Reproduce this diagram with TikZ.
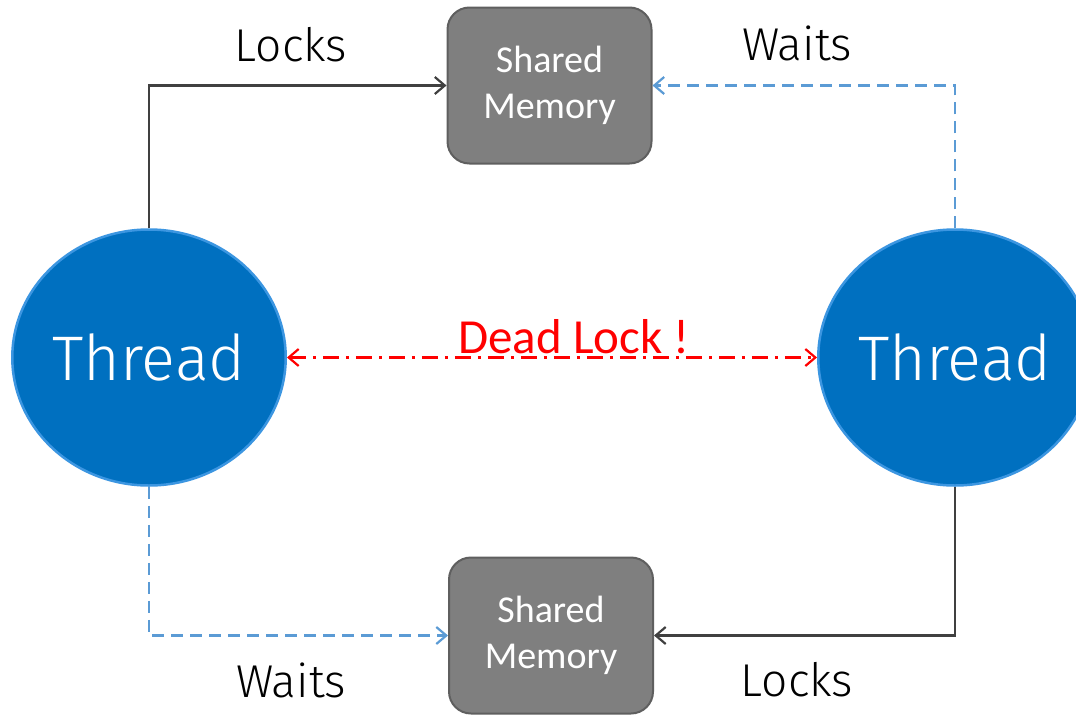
\documentclass[tikz,border=0pt]{standalone}
\usepackage{fontspec}
\setmainfont{Carlito}
\newfontfamily\thinfont{Fira Sans Light}
\usetikzlibrary{shapes.geometric,arrows.meta}
\definecolor{threadblue}{RGB}{0,112,192}
\definecolor{rimblue}{RGB}{60,150,225}
\definecolor{boxgrey}{RGB}{127,127,127}
\definecolor{boxedge}{RGB}{95,95,95}
\definecolor{waitblue}{RGB}{91,155,213}
\definecolor{lockgrey}{RGB}{64,64,64}
\tikzset{
  thread/.style={ellipse, fill=threadblue, draw=rimblue, line width=2.5pt, minimum width=268pt, minimum height=256pt, inner sep=0pt, text=white, font=\thinfont\fontsize{63}{63}\selectfont},
  membox/.style={rectangle, rounded corners=22pt, fill=boxgrey, draw=boxedge, line width=2pt, minimum width=204pt, minimum height=156pt, inner sep=0pt, text=white, align=center, font=\fontsize{38}{46}\selectfont},
  tip/.style={-{Straight Barb[length=10pt,width=17pt,line width=2.2pt]}},
  lockline/.style={tip, draw=lockgrey, line width=2.6pt},
  waitline/.style={tip, draw=waitblue, line width=2.6pt, dash pattern=on 12pt off 7pt},
  deadline/.style={{Straight Barb[length=10pt,width=17pt,line width=2.2pt]}-{Straight Barb[length=10pt,width=17pt,line width=2.2pt]}, draw=red, line width=2.6pt, dash pattern=on 16pt off 7pt on 3pt off 7pt},
  lbl/.style={font=\thinfont\fontsize{46}{46}\selectfont, text=black, inner sep=0pt},
}
\begin{document}
\begin{tikzpicture}[x=1pt,y=-1pt]
\clip (0,0) rectangle (1076,715);
\fill[white] (0,0) rectangle (1076,715);
\node[thread] (lt) at (149,357.5) {Thread};
\node[thread] (rt) at (955,357.5) {Thread};
\node[membox] (tb) at (549.5,85.5) {Shared\\Memory};
\node[membox] (bb) at (551,635.5) {Shared\\Memory};
\draw[lockline] (lt.north) |- (tb.west);
\draw[waitline] (rt.north) |- (tb.east);
\draw[waitline] (lt.south) |- (bb.west);
\draw[lockline] (rt.south) |- (bb.east);
\draw[deadline] (lt.east) -- (rt.west);
\node[text=red, font=\fontsize{49}{49}\selectfont, inner sep=0pt] (dl) at (574,337) {Dead Lock !};
\node[lbl] (l1) at (291,45) {Locks};
\node[lbl] (w1) at (797,43) {Waits};
\node[lbl] (w2) at (291,680) {Waits};
\node[lbl] (l2) at (797,680) {Locks};
\end{tikzpicture}
\end{document}
